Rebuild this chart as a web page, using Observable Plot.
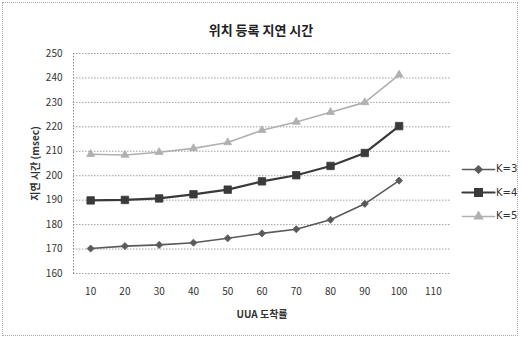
<!DOCTYPE html>
<html><head><meta charset="utf-8">
<script src="https://cdn.jsdelivr.net/npm/d3@7"></script>
<script src="https://cdn.jsdelivr.net/npm/@observablehq/plot@0.6"></script>
<style>
body{margin:0;background:#fff;font-family:"Noto Sans CJK KR","Noto Sans",sans-serif;}
#wrap{position:relative;width:522px;height:340px;}
#frame{position:absolute;left:2px;top:2px;width:516px;height:334px;border:1px dotted #aaa;box-sizing:border-box;}
#title{position:absolute;left:0;width:522px;top:20px;text-align:center;font-size:13px;font-weight:bold;color:#222;}
#legend{position:absolute;left:460px;top:157px;font-size:10px;color:#333;font-family:"DejaVu Sans",sans-serif;}
#legend div{height:23.5px;display:flex;align-items:center;}
</style></head>
<body><div id="wrap"><div id="frame"></div><div id="title">위치 등록 지연 시간</div><div id="chart"></div><div id="legend"></div></div>
<script>
const xCats = [10, 20, 30, 40, 50, 60, 70, 80, 90, 100];
const xTicks = [10, 20, 30, 40, 50, 60, 70, 80, 90, 100, 110];
const yTicks = [160, 170, 180, 190, 200, 210, 220, 230, 240, 250];
const seriesNames = ["K=3", "K=4", "K=5"];
const k3 = [170.2, 171.2, 171.7, 172.6, 174.4, 176.4, 178.1, 182.0, 188.5, 198.0];
const k4 = [189.9, 190.1, 190.7, 192.4, 194.3, 197.7, 200.2, 204.0, 209.3, 220.3];
const k5 = [208.8, 208.5, 209.6, 211.2, 213.6, 218.6, 222.0, 226.0, 230.0, 241.3];

const styles = {
  "K=3": {stroke: "#5a5a5a", symbol: "diamond2", r: 3.2, sw: 1.6},
  "K=4": {stroke: "#3a3a3a", symbol: "square", r: 4.2, sw: 2.2},
  "K=5": {stroke: "#b0b0b0", symbol: "triangle2", r: 3.8, sw: 1.6}
};
const allSeries = [k3, k4, k5];
const data = [];
seriesNames.forEach((s, i) => xCats.forEach((x, j) => data.push({s, x, v: allSeries[i][j]})));

const marks = [
  Plot.gridY(yTicks, {stroke: "#888", strokeOpacity: 0.8, strokeDasharray: "1.5,1.5"}),
  Plot.ruleX([5], {stroke: "#888", strokeDasharray: "1.5,1.5"}),
  Plot.axisY(yTicks, {tickSize: 0, tickPadding: 11, fontSize: 10, label: "지연 시간 (msec)", labelAnchor: "center", labelArrow: "none", labelOffset: 42}),
  Plot.axisX(xTicks, {tickSize: 0, tickPadding: 14, fontSize: 10, label: "UUA 도착률", labelAnchor: "center", labelArrow: "none", labelOffset: 44})
];
seriesNames.forEach(s => {
  const st = styles[s];
  const d = data.filter(e => e.s === s);
  marks.push(Plot.line(d, {x: "x", y: "v", stroke: st.stroke, strokeWidth: st.sw}));
  marks.push(Plot.dot(d, {x: "x", y: "v", symbol: () => st.symbol, r: st.r, fill: st.stroke, stroke: st.stroke, strokeWidth: 0.8}));
});

const chart = Plot.plot({
  width: 522, height: 340,
  marginLeft: 73, marginRight: 72, marginTop: 53, marginBottom: 67,
  style: {fontFamily: "'Noto Sans CJK KR', 'DejaVu Sans', sans-serif", color: "#333", background: "transparent"},
  x: {type: "linear", domain: [5, 115]},
  y: {domain: [160, 250]},
  symbol: {type: "identity"},
  marks
});
chart.style.position = "absolute";
chart.style.left = "0"; chart.style.top = "0";
chart.querySelectorAll("g[aria-label='y-axis label'] text, g[aria-label='x-axis label'] text").forEach(t => {
  t.setAttribute("font-weight", "bold"); t.setAttribute("font-size", "10");
});
document.getElementById("chart").appendChild(chart);

const legend = document.getElementById("legend");
seriesNames.forEach(s => {
  const st = styles[s];
  const row = document.createElement("div");
  const svg = Plot.plot({
    width: 36, height: 14, margin: 0,
    x: {domain: [0, 36], axis: null}, y: {domain: [0, 14], axis: null},
    symbol: {type: "identity"},
    style: {background: "transparent"},
    marks: [
      Plot.line([[2, 7], [34, 7]], {stroke: st.stroke, strokeWidth: st.sw}),
      Plot.dot([[18, 7]], {symbol: () => st.symbol, r: st.r, fill: st.stroke, stroke: st.stroke})
    ]
  });
  row.appendChild(svg);
  const lab = document.createElement("span");
  lab.textContent = s;
  row.appendChild(lab);
  legend.appendChild(row);
});
</script></body></html>
